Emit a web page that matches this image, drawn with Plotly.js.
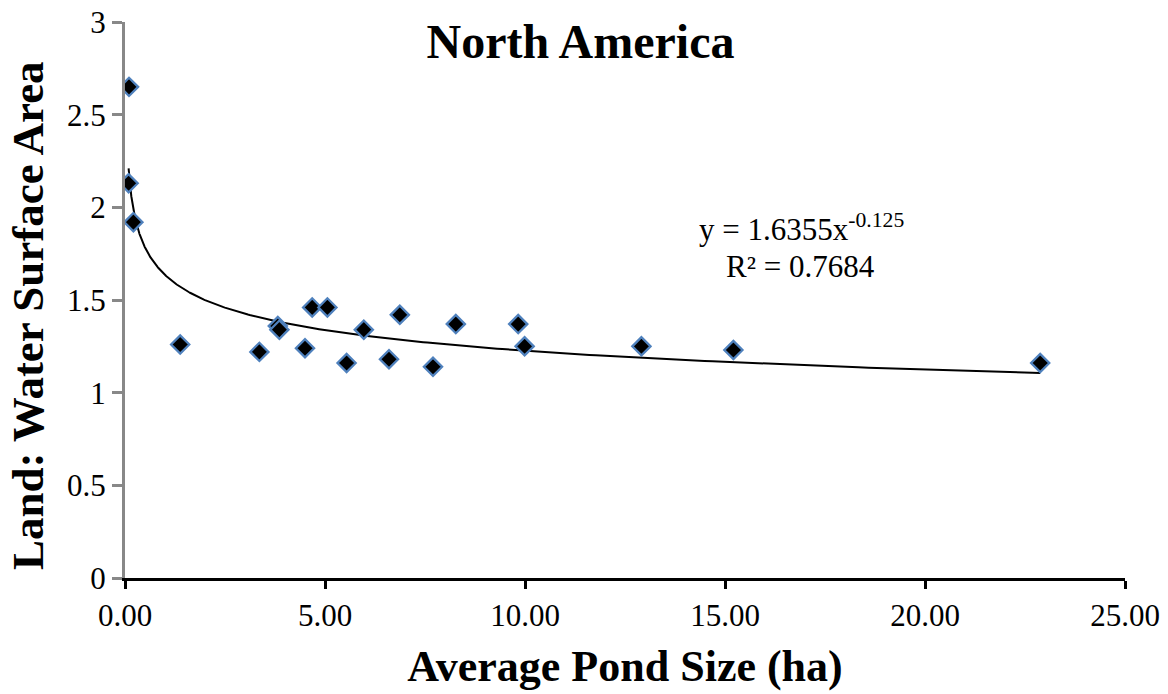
<!DOCTYPE html>
<html>
<head>
<meta charset="utf-8">
<script src="https://cdn.plot.ly/plotly-3.0.1.min.js"></script>
<style>html,body{margin:0;padding:0;background:#fff;}#chart{width:1168px;height:694px;}</style>
</head>
<body>
<div id="chart"></div>
<script>
// Data
const pondSize = [0.1, 0.09, 0.21, 1.38, 3.36, 3.82, 3.86, 4.5, 4.68, 5.06, 5.54, 5.97, 6.6, 6.87, 7.7, 8.27, 9.83, 9.99, 12.91, 15.21, 22.88];
const landWater = [2.65, 2.13, 1.92, 1.26, 1.22, 1.36, 1.34, 1.24, 1.46, 1.46, 1.16, 1.34, 1.18, 1.42, 1.14, 1.37, 1.37, 1.25, 1.25, 1.23, 1.16];
// Power trendline as stated on the chart: y = a * x^b
const trendA = 1.6355;
const trendB = -0.125;
const xTicks = [0, 5, 10, 15, 20, 25];
const xTickLabels = ["0.00", "5.00", "10.00", "15.00", "20.00", "25.00"];
const yTicks = [0, 0.5, 1, 1.5, 2, 2.5, 3];
const yTickLabels = ["0", "0.5", "1", "1.5", "2", "2.5", "3"];

const xmin = Math.min(...pondSize), xmax = Math.max(...pondSize);
const trendX = [], trendY = [];
const n = 400;
for (let i = 0; i <= n; i++) {
  const x = xmin * Math.pow(xmax / xmin, i / n);
  trendX.push(x);
  trendY.push(trendA * Math.pow(x, trendB));
}

const serif = "Liberation Serif, Times New Roman, serif";

const traces = [
  {
    x: trendX, y: trendY, mode: "lines", type: "scatter",
    line: {color: "#000000", width: 2}, hoverinfo: "skip", showlegend: false
  },
  {
    x: pondSize, y: landWater, mode: "markers", type: "scatter",
    marker: {symbol: "diamond", size: 14, color: "#000000", line: {color: "#4F81BD", width: 2.3}},
    showlegend: false
  }
];

const layout = {
  width: 1168, height: 694,
  margin: {l: 125, r: 43, t: 22, b: 116},
  paper_bgcolor: "#ffffff", plot_bgcolor: "#ffffff",
  font: {family: serif, color: "#000000", size: 31},
  showlegend: false,
  title: {
    text: "North America",
    font: {family: serif, size: 48, weight: "bold", color: "#000000"},
    x: 0.497, xanchor: "center", y: 0.94, yanchor: "middle"
  },
  xaxis: {
    range: [0, 25], tickvals: xTicks, ticktext: xTickLabels,
    showgrid: false, zeroline: false,
    showline: true, linecolor: "#000000", linewidth: 3,
    ticks: "outside", tickcolor: "#000000", tickwidth: 3, ticklen: 8,
    tickfont: {family: serif, size: 31, color: "#000000"},
    layer: "below traces",
    title: {text: "Average Pond Size (ha)", font: {family: serif, size: 44, weight: "bold", color: "#000000"}, standoff: 18}
  },
  yaxis: {
    range: [0, 3], tickvals: yTicks, ticktext: yTickLabels,
    showgrid: false, zeroline: false,
    showline: true, linecolor: "#888888", linewidth: 3,
    ticks: "outside", tickcolor: "#888888", tickwidth: 3, ticklen: 10,
    tickfont: {family: serif, size: 31, color: "#000000"},
    layer: "below traces",
    title: {text: ""}
  },
  annotations: [
    {xref: "paper", yref: "paper", x: -0.097, y: 0.471, xanchor: "center", yanchor: "middle", textangle: -90,
     text: "<b>Land: Water Surface Area</b>", showarrow: false, font: {family: serif, size: 45, color: "#000000"}},
    {xref: "paper", yref: "paper", x: 0.676, y: 0.63, xanchor: "center", yanchor: "middle",
     text: "y = 1.6355x<sup>-0.125</sup>", showarrow: false, font: {family: serif, size: 31, color: "#000000"}},
    {xref: "paper", yref: "paper", x: 0.675, y: 0.561, xanchor: "center", yanchor: "middle",
     text: "R² = 0.7684", showarrow: false, font: {family: serif, size: 31, color: "#000000"}}
  ]
};

Plotly.newPlot("chart", traces, layout, {displayModeBar: false, staticPlot: true});
</script>
</body>
</html>
